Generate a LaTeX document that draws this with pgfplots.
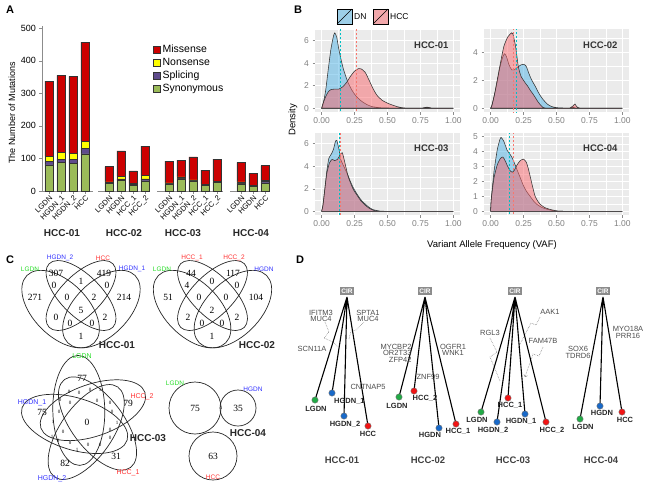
\documentclass[border=0pt]{standalone}
\usepackage{fontspec}
\setmainfont{Liberation Sans}
\newfontfamily\vf{Liberation Serif}
\usepackage{pgfplots}
\pgfplotsset{compat=1.18}
\usepackage{pgfplotstable}

\definecolor{mis}{RGB}{204,0,0}
\definecolor{non}{RGB}{255,255,0}
\definecolor{spl}{RGB}{95,75,140}
\definecolor{syn}{RGB}{155,187,89}
\definecolor{ggbg}{RGB}{235,235,235}
\definecolor{dnc}{RGB}{77,179,230}
\definecolor{hcc}{RGB}{248,100,106}
\definecolor{dnleg}{RGB}{157,207,232}
\definecolor{hccleg}{RGB}{242,168,171}
\definecolor{cyanl}{RGB}{0,191,196}
\definecolor{redl}{RGB}{248,118,109}
\definecolor{vgreen}{RGB}{40,220,40}
\definecolor{vblue}{RGB}{50,50,255}
\definecolor{vred}{RGB}{255,50,50}
\definecolor{tgreen}{RGB}{34,170,70}
\definecolor{tblue}{RGB}{25,105,200}
\definecolor{tred}{RGB}{240,20,20}

\newcommand\fs[1]{\fontsize{#1}{#1}\selectfont}

\tikzset{
  facet/.style={anchor=east, font=\bfseries\fs{9.5}, text=black!80},
  cir/.style={fill=black!45, text=white, font=\bfseries\fs{6.5}, inner xsep=1.8pt, inner ysep=1.5pt,
    text height=4.8pt, text depth=0pt},
}
\pgfplotsset{
  sqleg/.style={legend image code/.code={\draw[##1,line width=0.4pt] (0pt,-3.5pt) rectangle (7pt,3.5pt);}},
  gg/.style={scale only axis, width=145pt, xmin=-0.05, xmax=1.05,
    axis background/.style={fill=ggbg},
    axis line style={draw=none},
    grid=both, major grid style={white, line width=0.9pt}, minor grid style={white, line width=0.45pt},
    xtick={0,0.25,0.5,0.75,1}, minor xtick={0.125,0.375,0.625,0.875},
    xticklabels={0.00,0.25,0.50,0.75,1.00},
    tick align=outside, tick pos=left, major tick length=2.5pt, minor tick length=0pt,
    tick style={black!45, line width=0.5pt},
    tick label style={font=\fs{8.5}, text=black!50},
    /pgf/number format/assume math mode=true},
  dn/.style={fill=dnc, fill opacity=0.5, draw=black!80, line width=0.55pt, smooth, tension=0.35},
  hc/.style={fill=hcc, fill opacity=0.5, draw=black!80, line width=0.55pt, smooth, tension=0.35},
  mean/.style={dash pattern=on 2pt off 2pt, line width=0.7pt},
  vlab/.style={only marks, mark=*, mark size=0pt, mark options={draw=none, fill=none},
    nodes near coords, point meta=explicit symbolic,
    every node near coord/.style={anchor=center, inner sep=0pt, font=#1}},
}

\pgfplotstableread{
x syn spl non mis
0 80 10 17 230
1 88 9 21 237
2 85 13 17 237
3 114 17 22 304
5 23 3 2 47
6 33 4 8 78
7 17 3 3 39
8 31 6 10 91
10 22 1 2 67
11 37 1 5 52
12 31 1 2 71
13 17 1 2 44
14 26 1 3 68
16 22 3 3 60
17 15 2 1 36
18 25 4 3 46
}\mutdata

\begin{document}
\begin{tikzpicture}

% ---------- overlay canvas in pixel units (panels C, D and loose text)
\begin{axis}[at={(0pt,0pt)}, anchor=north west, scale only axis,
  width=650pt, height=490pt, xmin=0, xmax=650, ymin=0, ymax=490,
  y dir=reverse, hide axis, clip=false]

% panel letters
\node[font=\bfseries\fs{11}] at (axis cs:10,10) {A};
\node[font=\bfseries\fs{11}] at (axis cs:298,10) {B};
\node[font=\bfseries\fs{11}] at (axis cs:10,260) {C};
\node[font=\bfseries\fs{11}] at (axis cs:300,260) {D};

% panel A loose text
\node[rotate=90, font=\fs{9}] at (axis cs:12,113) {The Number of Mutations};
\node[font=\bfseries\fs{10}, text=black!85] at (axis cs:62,233) {HCC-01};
\node[font=\bfseries\fs{10}, text=black!85] at (axis cs:124,233) {HCC-02};
\node[font=\bfseries\fs{10}, text=black!85] at (axis cs:183,233) {HCC-03};
\node[font=\bfseries\fs{10}, text=black!85] at (axis cs:251,233) {HCC-04};

% panel B loose text and legend
\node[rotate=90, font=\fs{9.5}] at (axis cs:293,120) {Density};
\node[font=\fs{9.5}] at (axis cs:492,245) {Variant Allele Frequency (VAF)};
\draw[fill=dnleg, line width=0.6pt] (axis cs:337,9) rectangle (axis cs:352,24);
\draw[line width=0.6pt] (axis cs:337,24) -- (axis cs:352,9);
\node[anchor=west, font=\fs{8.5}, inner sep=1pt] at (axis cs:353,16.5) {DN};
\draw[fill=hccleg, line width=0.6pt] (axis cs:373,9) rectangle (axis cs:388,24);
\draw[line width=0.6pt] (axis cs:373,24) -- (axis cs:388,9);
\node[anchor=west, font=\fs{8.5}, inner sep=1pt] at (axis cs:389,16.5) {HCC};

% ---------- panel C: Venn diagrams
\begin{scope}[line width=0.7pt, black!85]
% HCC-01
\draw[rotate around={135:(axis cs:60.6,309.1)}] (axis cs:60.6,309.1) ellipse [x radius=47.6, y radius=27.2];
\draw[rotate around={45:(axis cs:101.4,309.1)}] (axis cs:101.4,309.1) ellipse [x radius=47.6, y radius=27.2];
\draw[rotate around={135:(axis cs:81,295.5)}] (axis cs:81,295.5) ellipse [x radius=45, y radius=20.4];
\draw[rotate around={45:(axis cs:81,295.5)}] (axis cs:81,295.5) ellipse [x radius=45, y radius=20.4];
% HCC-02
\draw[rotate around={135:(axis cs:192.1,309.1)}] (axis cs:192.1,309.1) ellipse [x radius=47.6, y radius=27.2];
\draw[rotate around={45:(axis cs:232.9,309.1)}] (axis cs:232.9,309.1) ellipse [x radius=47.6, y radius=27.2];
\draw[rotate around={135:(axis cs:212.5,295.5)}] (axis cs:212.5,295.5) ellipse [x radius=45, y radius=20.4];
\draw[rotate around={45:(axis cs:212.5,295.5)}] (axis cs:212.5,295.5) ellipse [x radius=45, y radius=20.4];
% HCC-03
\draw[rotate around={91:(axis cs:78.8,410.4)}] (axis cs:78.8,410.4) ellipse [x radius=55, y radius=26];
\draw[rotate around={19:(axis cs:92.9,410.2)}] (axis cs:92.9,410.2) ellipse [x radius=55, y radius=26];
\draw[rotate around={-53:(axis cs:97.5,423.5)}] (axis cs:97.5,423.5) ellipse [x radius=55, y radius=26];
\draw[rotate around={-125:(axis cs:86.2,432)}] (axis cs:86.2,432) ellipse [x radius=55, y radius=26];
\draw[rotate around={163:(axis cs:74.6,423.9)}] (axis cs:74.6,423.9) ellipse [x radius=55, y radius=26];
% HCC-04
\draw (axis cs:195,408) circle [radius=26];
\draw (axis cs:238,408) circle [radius=18];
\draw (axis cs:213,456) circle [radius=24];
\end{scope}

\addplot[vlab=\vf\fs{9.5}] table[meta=l] {
x y l
56 273 307
104 273 419
35 297 271
124 297 214
54 285 0
81 281 1
107 285 0
67 297 0
94 297 2
81 310 5
56 317 0
70 323 0
92 323 0
105 317 2
81 336 1
191 273 44
233 273 117
168 297 51
256 297 104
187 285 4
212 281 0
237 285 0
199 297 0
226 297 0
212 310 2
188 317 2
202 323 0
222 323 0
237 317 2
212 336 1
82 378 77
128 403 79
116 456 31
65 463 82
42 412 75
87 422 0
195 408 75
238 408 35
213 456 63
};
\addplot[vlab=\vf\fs{5}] table[meta=l] {
x y l
69 392 0
79 393 0
90 390 0
100 390 1
60 400 0
70 403 0
97 401 0
110 403 0
112 412 0
117 423 1
110 430 0
110 438 0
100 445 0
88 445 0
77 450 1
70 443 0
58 441 0
52 437 1
63 432 0
53 422 1
59 412 0
221 408 1
};

% set names
\node[font=\fs{6.5}, text=vgreen] at (axis cs:30,269) {LGDN};
\node[font=\fs{6.5}, text=vblue] at (axis cs:60,258) {HGDN\_2};
\node[font=\fs{6.5}, text=vred] at (axis cs:103,258) {HCC};
\node[font=\fs{6.5}, text=vblue] at (axis cs:132,269) {HGDN\_1};
\node[font=\fs{6.5}, text=vgreen] at (axis cs:162,269) {LGDN};
\node[font=\fs{6.5}, text=vred] at (axis cs:192,258) {HCC\_1};
\node[font=\fs{6.5}, text=vred] at (axis cs:234,258) {HCC\_2};
\node[font=\fs{6.5}, text=vblue] at (axis cs:264,269) {HGDN};
\node[font=\fs{7}, text=vgreen] at (axis cs:82,356) {LGDN};
\node[font=\fs{7}, text=vred] at (axis cs:142,397) {HCC\_2};
\node[font=\fs{7}, text=vred] at (axis cs:128,473) {HCC\_1};
\node[font=\fs{7}, text=vblue] at (axis cs:52,479) {HGDN\_2};
\node[font=\fs{7}, text=vblue] at (axis cs:32,403) {HGDN\_1};
\node[font=\fs{6.5}, text=vgreen] at (axis cs:175,383) {LGDN};
\node[font=\fs{6.5}, text=vblue] at (axis cs:253,389) {HGDN};
\node[font=\fs{6.5}, text=vred] at (axis cs:213,477) {HCC};
% venn titles
\node[font=\bfseries\fs{10}, text=black!85] at (axis cs:117,345) {HCC-01};
\node[font=\bfseries\fs{10}, text=black!85] at (axis cs:257,345) {HCC-02};
\node[font=\bfseries\fs{10}, text=black!85] at (axis cs:148,438) {HCC-03};
\node[font=\bfseries\fs{10}, text=black!85] at (axis cs:248,433) {HCC-04};

% ---------- panel D: trees
\addplot[gray, densely dotted, line width=0.6pt, ->, unbounded coords=jump] coordinates {
(325,322) (329,332) (324,338) (333,342) (338,347) (nan,nan)
(364,322) (356,330) (351,331) (349,339) (nan,nan)
(490,338) (497,352) (490,357) (500,381) (nan,nan)
(540,317) (536,325) (531,323) (518,348) (nan,nan)
(543,347) (539,356) (533,354) (525,377)
};
\addplot[black, line width=1.1pt, unbounded coords=jump] coordinates {
(347,297) (315,400) (nan,nan)
(347,297) (332,393) (nan,nan)
(347,297) (344,416) (nan,nan)
(347,297) (368,426) (nan,nan)
(425,297) (399,397) (nan,nan)
(425,297) (414,391) (nan,nan)
(425,297) (439,428) (nan,nan)
(425,297) (456,424) (nan,nan)
(515,297) (481,412) (nan,nan)
(515,297) (497,422) (nan,nan)
(515,297) (508,398) (nan,nan)
(515,297) (525,414) (nan,nan)
(515,297) (546,422) (nan,nan)
(603,297) (580,419) (nan,nan)
(603,297) (600,406) (nan,nan)
(603,297) (622,412)
};
\addplot[scatter, only marks, mark=*, mark size=3.2pt, scatter src=explicit symbolic,
  scatter/classes={g={fill=tgreen, draw=black!55}, b={fill=tblue, draw=black!55}, r={fill=tred, draw=black!55}}]
  table[meta=c] {
x y c
315 400 g
332 393 b
344 416 b
368 426 r
399 397 g
414 391 r
439 428 b
456 424 r
481 412 g
497 422 b
508 398 r
525 414 b
546 422 r
580 419 g
600 406 b
622 412 r
};
% CIR boxes
\node[cir] at (axis cs:347,291) {CIR};
\node[cir] at (axis cs:425,291) {CIR};
\node[cir] at (axis cs:515,291) {CIR};
\node[cir] at (axis cs:603,291) {CIR};
% leaf labels
\begin{scope}[font=\bfseries\fs{7.5}, text=black!85]
\node at (axis cs:316,409) {LGDN};
\node[anchor=west, inner sep=0pt] at (axis cs:334,401) {HGDN\_1};
\node at (axis cs:345,424) {HGDN\_2};
\node at (axis cs:368,434) {HCC};
\node at (axis cs:397,405.5) {LGDN};
\node at (axis cs:425,398.5) {HCC\_2};
\node at (axis cs:430,435) {HGDN};
\node at (axis cs:458,431.5) {HCC\_1};
\node at (axis cs:477,420) {LGDN};
\node at (axis cs:493,430) {HGDN\_2};
\node at (axis cs:510,405) {HCC\_1};
\node at (axis cs:521,421.5) {HGDN\_1};
\node at (axis cs:552,430) {HCC\_2};
\node at (axis cs:583,427) {LGDN};
\node at (axis cs:602,413) {HGDN};
\node at (axis cs:625,420) {HCC};
\end{scope}
% gene labels
\begin{scope}[font=\fs{7.5}, text=black!70, align=center]
\node[font=\fontsize{7.5}{6.5}\selectfont] at (axis cs:321,316) {IFITM3\\MUC4};
\node[font=\fontsize{7.5}{6.5}\selectfont] at (axis cs:368,316) {SPTA1\\MUC4};
\node at (axis cs:312,349) {SCN11A};
\node at (axis cs:368,387) {CNTNAP5};
\node[font=\fontsize{7.5}{6.5}\selectfont, align=right] at (axis cs:396,353) {MYCBP2\\OR2T33\\ZFP42};
\node[font=\fontsize{7.5}{6.5}\selectfont] at (axis cs:453,350) {OGFR1\\WNK1};
\node at (axis cs:428,377) {ZNF99};
\node at (axis cs:490,333) {RGL3};
\node at (axis cs:550,312) {AAK1};
\node at (axis cs:543,341) {FAM47B};
\node[font=\fontsize{7.5}{7}\selectfont] at (axis cs:578,352) {SOX6\\TDRD6};
\node[font=\fontsize{7.5}{7}\selectfont] at (axis cs:628,332) {MYO18A\\PRR16};
\end{scope}
\begin{scope}[font=\bfseries\fs{9.5}, text=black!75]
\node at (axis cs:342,460) {HCC-01};
\node at (axis cs:428,460) {HCC-02};
\node at (axis cs:513,460) {HCC-03};
\node at (axis cs:601,460) {HCC-04};
\end{scope}
\end{axis}

% ---------- panel A: stacked bars
\begin{axis}[at={(42pt,-191pt)}, anchor=south west, scale only axis,
  width=228pt, height=164.6pt, xmin=-0.6, xmax=18.4, ymin=0, ymax=505,
  ybar stacked, bar width=8.5pt,
  axis x line*=bottom, axis y line*=left,
  x axis line style={draw=none}, y axis line style={-, black!45},
  ytick={0,100,200,300,400,500},
  xtick={0,1,2,3,5,6,7,8,10,11,12,13,14,16,17,18},
  xticklabels={LGDN,HGDN\_1,HGDN\_2,HCC,LGDN,HGDN,HCC\_1,HCC\_2,LGDN,HGDN\_1,HGDN\_2,HCC\_1,HCC\_2,LGDN,HGDN,HCC},
  xticklabel style={rotate=45, anchor=north east, font=\fs{7.5}, inner sep=1pt},
  yticklabel style={font=\fs{9}},
  tick align=outside, major tick length=2.5pt, tick style={black!45},
  /pgf/number format/assume math mode=true,
  reverse legend,
  legend style={at={(0.487,0.90)}, anchor=north west, draw=none, fill=none,
    font=\fs{10.5}, row sep=0pt, inner sep=0pt},
  legend cell align=left,
]
\addplot[fill=syn, draw=black!80, line width=0.4pt, sqleg] table[x=x, y=syn] {\mutdata};
\addplot[fill=spl, draw=black!80, line width=0.4pt, sqleg] table[x=x, y=spl] {\mutdata};
\addplot[fill=non, draw=black!80, line width=0.4pt, sqleg] table[x=x, y=non] {\mutdata};
\addplot[fill=mis, draw=black!80, line width=0.4pt, sqleg] table[x=x, y=mis] {\mutdata};
\legend{Synonymous,Splicing,Nonsense,Missense}
% x axis drawn per group, as in the faceted original
\addplot[black!45, line width=0.5pt, forget plot, unbounded coords=jump, ybar=0pt, sharp plot, stack plots=false]
  coordinates {(-0.6,0)(3.65,0)(nan,nan)(4.1,0)(8.4,0)(nan,nan)(9.0,0)(14.5,0)(nan,nan)(15.1,0)(18.4,0)};
\end{axis}

% ---------- panel B: densities
\begin{axis}[gg, at={(315pt,-112pt)}, anchor=south west, height=83pt,
  ymin=-0.335, ymax=7.04, ytick={0,2,4,6}, minor ytick={1,3,5,7}]
\addplot[dn] coordinates {(0,0)(0.01,0.3)(0.03,1.5)(0.05,3.4)(0.07,5.2)(0.09,6.4)(0.1,6.7)(0.115,6.3)(0.13,5.3)(0.15,4.2)(0.17,3.3)(0.2,2.3)(0.23,1.6)(0.26,1.1)(0.3,0.65)(0.34,0.35)(0.38,0.15)(0.45,0.04)(0.55,0.01)(0.7,0)(0.76,0)(0.8,0.08)(0.84,0)(1,0)} \closedcycle;
\addplot[hc] coordinates {(0,0)(0.01,0.4)(0.03,1.0)(0.05,1.45)(0.07,1.65)(0.1,1.7)(0.13,1.7)(0.16,1.9)(0.19,2.3)(0.22,2.85)(0.25,3.3)(0.28,3.52)(0.3,3.5)(0.33,3.2)(0.36,2.5)(0.39,1.75)(0.42,1.15)(0.46,0.7)(0.5,0.45)(0.54,0.27)(0.58,0.12)(0.62,0.03)(0.66,0)(0.76,0)(0.8,0.1)(0.84,0)(1,0)} \closedcycle;
\addplot[cyanl, mean] coordinates {(0.144,-1)(0.144,10)};
\addplot[redl, mean] coordinates {(0.263,-1)(0.263,10)};
\node[facet] at (rel axis cs:0.945,0.81) {HCC-01};
\end{axis}

\begin{axis}[gg, at={(484pt,-112pt)}, anchor=south west, height=83pt,
  ymin=-0.27, ymax=5.67, ytick={0,2,4}, minor ytick={1,3,5}]
\addplot[dn] coordinates {(0,0)(0.01,0.2)(0.03,1.0)(0.05,1.9)(0.07,2.9)(0.09,3.6)(0.105,3.9)(0.12,3.7)(0.14,3.1)(0.16,2.75)(0.18,2.75)(0.2,2.9)(0.23,3.1)(0.25,3.15)(0.27,3.0)(0.29,2.5)(0.31,2.05)(0.34,1.55)(0.37,1.0)(0.4,0.6)(0.43,0.3)(0.46,0.13)(0.5,0.04)(0.56,0.01)(0.6,0)(0.63,0.08)(0.66,0)(1,0)} \closedcycle;
\addplot[hc] coordinates {(0,0)(0.01,0.2)(0.03,1.0)(0.05,2.0)(0.07,3.0)(0.1,4.4)(0.13,5.1)(0.16,5.4)(0.17,5.3)(0.19,4.4)(0.21,3.0)(0.23,2.3)(0.26,1.85)(0.28,1.6)(0.3,1.3)(0.33,0.9)(0.36,0.45)(0.39,0.12)(0.42,0)(0.6,0)(0.64,0.3)(0.68,0)(1,0)} \closedcycle;
\addplot[cyanl, mean] coordinates {(0.195,-1)(0.195,10)};
\addplot[redl, mean] coordinates {(0.17,-1)(0.17,10)};
\node[facet] at (rel axis cs:0.945,0.81) {HCC-02};
\end{axis}

\begin{axis}[gg, at={(315pt,-215pt)}, anchor=south west, height=82pt,
  ymin=-0.33, ymax=6.95, ytick={0,2,4,6}, minor ytick={1,3,5}]
\addplot[dn] coordinates {(0,0)(0.01,0.5)(0.025,2.0)(0.04,3.6)(0.055,4.7)(0.075,5.1)(0.09,5.5)(0.105,6.2)(0.115,6.3)(0.13,5.6)(0.145,4.6)(0.16,4.2)(0.18,3.7)(0.2,3.2)(0.22,2.6)(0.24,2.1)(0.27,1.5)(0.3,1.0)(0.33,0.65)(0.36,0.35)(0.39,0.15)(0.43,0.04)(0.48,0)(1,0)} \closedcycle;
\addplot[hc] coordinates {(0,0)(0.01,0.5)(0.025,2.0)(0.04,3.4)(0.06,4.3)(0.08,4.6)(0.1,4.5)(0.12,4.6)(0.14,5.0)(0.157,5.2)(0.175,4.4)(0.2,3.15)(0.22,2.5)(0.24,1.95)(0.27,1.4)(0.3,0.9)(0.33,0.55)(0.36,0.28)(0.39,0.1)(0.42,0.02)(0.46,0)(1,0)} \closedcycle;
\addplot[cyanl, mean] coordinates {(0.135,-1)(0.135,10)};
\addplot[redl, mean] coordinates {(0.145,-1)(0.145,10)};
\node[facet] at (rel axis cs:0.945,0.81) {HCC-03};
\end{axis}

\begin{axis}[gg, at={(484pt,-215pt)}, anchor=south west, height=82pt,
  ymin=-0.25, ymax=5.25, ytick={0,1,2,3,4,5}, minor ytick={0.5,1.5,2.5,3.5,4.5}]
\addplot[dn] coordinates {(0,0)(0.005,0.8)(0.025,2.6)(0.05,4.1)(0.07,4.8)(0.08,4.95)(0.1,4.7)(0.125,4.1)(0.145,3.85)(0.163,3.6)(0.18,3.25)(0.2,2.8)(0.225,2.25)(0.25,1.7)(0.275,1.3)(0.3,1.0)(0.325,0.7)(0.35,0.47)(0.39,0.25)(0.43,0.13)(0.47,0.05)(0.5,0.02)(0.55,0)(1,0)} \closedcycle;
\addplot[hc] coordinates {(0,0)(0.005,0.8)(0.025,2.2)(0.05,3.1)(0.075,3.55)(0.093,3.64)(0.11,3.4)(0.13,3.0)(0.15,2.7)(0.163,2.62)(0.18,2.75)(0.2,3.1)(0.225,3.4)(0.25,3.5)(0.27,3.3)(0.285,2.9)(0.3,2.35)(0.32,1.6)(0.338,1.0)(0.36,0.65)(0.376,0.47)(0.41,0.25)(0.45,0.13)(0.5,0.03)(0.55,0)(1,0)} \closedcycle;
\addplot[cyanl, mean] coordinates {(0.143,-1)(0.143,10)};
\addplot[redl, mean] coordinates {(0.173,-1)(0.173,10)};
\node[facet] at (rel axis cs:0.945,0.81) {HCC-04};
\end{axis}

\pgfresetboundingbox
\path[use as bounding box] (0pt,0pt) rectangle (650pt,-490pt);
\end{tikzpicture}
\end{document}
